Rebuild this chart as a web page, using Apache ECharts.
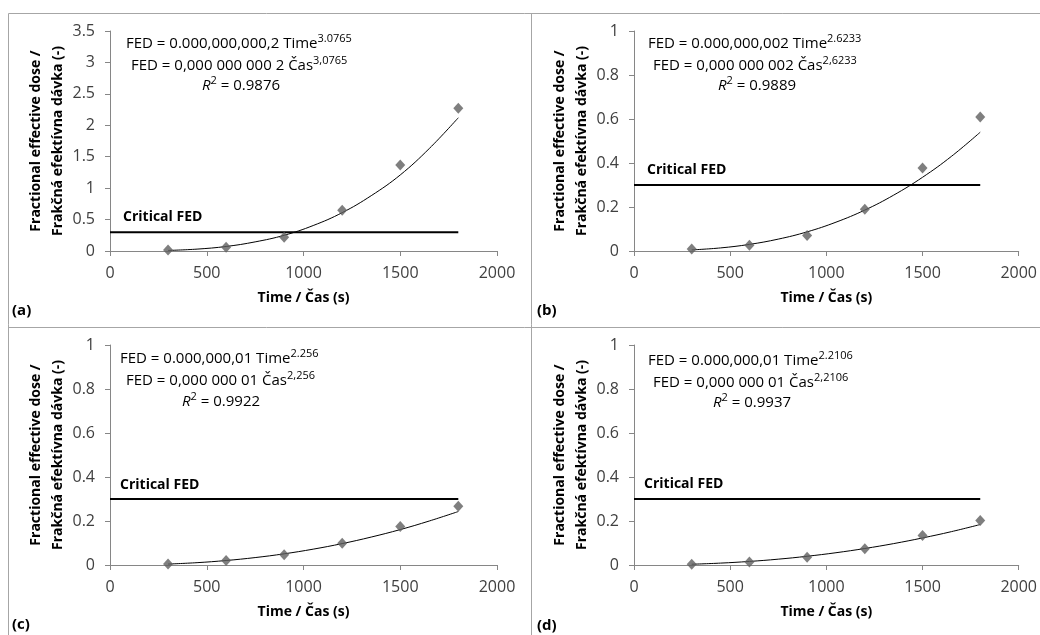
<!DOCTYPE html>
<html><head><meta charset="utf-8">
<script src="https://cdn.jsdelivr.net/npm/echarts@6/dist/echarts.min.js"></script>
<style>html,body{margin:0;padding:0;background:#fff}#c{width:1040px;height:635px}</style>
</head><body><div id="c"></div>
<script>
// ---- data ----
var times = [300, 600, 900, 1200, 1500, 1800];
var fedA = [0.016, 0.06, 0.22, 0.65, 1.37, 2.27];
var fedB = [0.009, 0.026, 0.07, 0.19, 0.377, 0.609];
var fedC = [0.005, 0.02, 0.047, 0.099, 0.175, 0.267];
var fedD = [0.003, 0.014, 0.035, 0.074, 0.134, 0.202];
var trendTimes = [300, 450, 600, 750, 900, 1050, 1200, 1350, 1500, 1650, 1800];
var trendA = [0.009, 0.03, 0.072, 0.145, 0.25, 0.405, 0.61, 0.88, 1.21, 1.63, 2.12];
var trendB = [0.005, 0.014, 0.03, 0.054, 0.087, 0.131, 0.186, 0.254, 0.335, 0.43, 0.54];
var trendC = [0.0043, 0.0106, 0.0204, 0.0337, 0.0508, 0.072, 0.0973, 0.127, 0.161, 0.2, 0.243];
var trendD = [0.0035, 0.0086, 0.0162, 0.0265, 0.0397, 0.0558, 0.075, 0.0973, 0.123, 0.1516, 0.184];
var criticalFED = 0.3;
var criticalRange = [0, 1800];
var yMax = [3.5, 1, 1, 1];
var yStep = [0.5, 0.2, 0.2, 0.2];
var panelLabels = ['(a)', '(b)', '(c)', '(d)'];
var eq1 = ['FED = 0.000,000,000,2 Time', 'FED = 0.000,000,002 Time', 'FED = 0.000,000,01 Time', 'FED = 0.000,000,01 Time'];
var exp1 = ['3.0765', '2.6233', '2.256', '2.2106'];
var eq2 = ['FED = 0,000 000 000 2 Čas', 'FED = 0,000 000 002 Čas', 'FED = 0,000 000 01 Čas', 'FED = 0,000 000 01 Čas'];
var exp2 = ['3,0765', '2,6233', '2,256', '2,2106'];
var r2 = ['0.9876', '0.9889', '0.9922', '0.9937'];
var xTitle = 'Time / Čas (s)';
var yTitle = 'Fractional effective dose /\nFrakčná efektívna dávka (-)';

var FONT = '"Open Sans", Lato, sans-serif';
var pts = [fedA, fedB, fedC, fedD];
var trends = [trendA, trendB, trendC, trendD];

var grids = [
  {left: 110, top: 31, width: 387, height: 220},
  {left: 634, top: 31, width: 386, height: 220},
  {left: 110, top: 345, width: 387, height: 220},
  {left: 634, top: 345, width: 386, height: 220}
];
// annotation anchor positions per panel
var eqPos = [
  {x1: 126, y1: 43, x2: 131, y2: 65, x3: 202, y3: 85, cx: 123, cy: 217, px: 12, py: 311},
  {x1: 648, y1: 43, x2: 653, y2: 65, x3: 718, y3: 85, cx: 647, cy: 170, px: 537, py: 311},
  {x1: 120, y1: 358, x2: 126, y2: 380, x3: 182, y3: 401, cx: 120, cy: 485, px: 12, py: 625},
  {x1: 648, y1: 360, x2: 653, y2: 382, x3: 713, y3: 402, cx: 644, cy: 484, px: 537, py: 626}
];

var xAxes = [], yAxes = [], series = [], graphics = [];
for (var i = 0; i < 4; i++) {
  xAxes.push({
    type: 'value', gridIndex: i, min: 0, max: 2000, interval: 500,
    name: xTitle, nameLocation: 'middle', nameGap: 40,
    nameTextStyle: {fontFamily: FONT, fontSize: 14, fontWeight: 'bold', color: '#000'},
    axisLine: {show: true, onZero: false, lineStyle: {color: '#868686', width: 1}},
    axisTick: {show: true, inside: false, length: 5, lineStyle: {color: '#868686'}},
    axisLabel: {fontFamily: FONT, fontSize: 16, color: '#404040', margin: 14, formatter: function (v) { return String(v); }},
    splitLine: {show: false}
  });
  yAxes.push({
    type: 'value', gridIndex: i, min: 0, max: yMax[i], interval: yStep[i],
    name: yTitle, nameLocation: 'middle', nameGap: 39, nameRotate: 90,
    nameTextStyle: {fontFamily: FONT, fontSize: 14, fontWeight: 'bold', color: '#000', lineHeight: 22},
    axisLine: {show: true, lineStyle: {color: '#868686', width: 1}},
    axisTick: {show: true, inside: false, length: 5, lineStyle: {color: '#868686'}},
    axisLabel: {fontFamily: FONT, fontSize: 16, color: '#404040', margin: 15},
    splitLine: {show: false}
  });
  series.push({
    type: 'line', xAxisIndex: i, yAxisIndex: i, silent: true,
    data: criticalRange.map(function (t) { return [t, criticalFED]; }),
    showSymbol: false, symbol: 'none',
    lineStyle: {color: '#000', width: 2}, z: 2
  });
  series.push({
    type: 'line', xAxisIndex: i, yAxisIndex: i, silent: true, smooth: 0.4,
    data: trendTimes.map(function (t, k) { return [t, trends[i][k]]; }),
    showSymbol: false, symbol: 'none',
    lineStyle: {color: '#000', width: 1}, z: 3
  });
  series.push({
    type: 'scatter', xAxisIndex: i, yAxisIndex: i, silent: true,
    data: times.map(function (t, k) { return [t, pts[i][k]]; }),
    symbol: 'diamond', symbolSize: [10, 11],
    itemStyle: {color: '#5f5f5f'}, z: 4
  });
  var p = eqPos[i];
  var richBase = {
    m: {fontFamily: FONT, fontSize: 15, fill: '#000', lineHeight: 22, verticalAlign: 'bottom'},
    i: {fontFamily: FONT, fontSize: 15, fontStyle: 'italic', fill: '#000', lineHeight: 22, verticalAlign: 'bottom'},
    s: {fontFamily: FONT, fontSize: 11, fill: '#000', lineHeight: 22, verticalAlign: 'bottom', padding: [0, 0, 7, 0]}
  };
  graphics.push({
    type: 'text', left: p.x1, top: p.y1 - 10,
    style: {text: '{m|' + eq1[i] + '}{s|' + exp1[i] + '}', rich: richBase}
  });
  graphics.push({
    type: 'text', left: p.x2, top: p.y2 - 10,
    style: {text: '{m|' + eq2[i] + '}{s|' + exp2[i] + '}', rich: richBase}
  });
  graphics.push({
    type: 'text', left: p.x3, top: p.y3 - 10,
    style: {text: '{i|R}{s|2}{m| = ' + r2[i] + '}', rich: richBase}
  });
  graphics.push({
    type: 'text', left: p.cx, top: p.cy - 7,
    style: {text: 'Critical FED', fontFamily: FONT, fontSize: 14, fontWeight: 'bold', fill: '#000'}
  });
  graphics.push({
    type: 'text', left: p.px, top: p.py - 8,
    style: {text: panelLabels[i], fontFamily: FONT, fontSize: 15, fontWeight: 'bold', fill: '#000'}
  });
}
// panel frame lines
var frameColor = '#a6a6a6';
[[8.5, 13.5, 1040, 13.5], [8.5, 13.5, 8.5, 635], [531.5, 13.5, 531.5, 635], [8.5, 327.5, 1040, 327.5]].forEach(function (l) {
  graphics.push({type: 'line', shape: {x1: l[0], y1: l[1], x2: l[2], y2: l[3]}, style: {stroke: frameColor, lineWidth: 1}, z: -1});
});

var chart = echarts.init(document.getElementById('c'), null, {renderer: 'canvas'});
chart.setOption({
  animation: false,
  backgroundColor: '#fff',
  grid: grids,
  xAxis: xAxes,
  yAxis: yAxes,
  series: series,
  graphic: graphics
});
</script>
</body></html>
